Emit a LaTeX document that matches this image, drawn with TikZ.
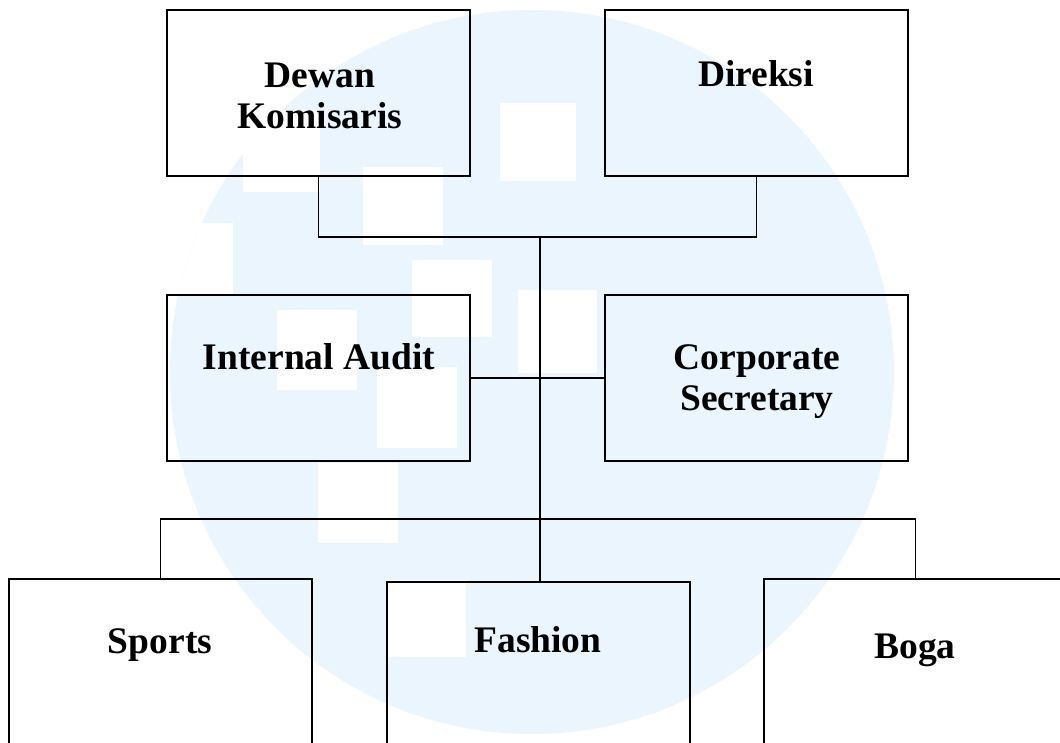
\documentclass[tikz,border=0pt]{standalone}
\usepackage{fontspec}
\setmainfont{Liberation Serif}
\definecolor{wmblue}{RGB}{234,245,254}
\begin{document}
\begin{tikzpicture}[x=1pt,y=-1pt,
  orgbox/.style={draw=black, line width=1.8pt, rectangle, inner sep=0pt, outer sep=0pt,
                 minimum width=303pt, minimum height=166pt},
  boxtext/.style={font=\fontsize{37.5}{41}\selectfont\bfseries, align=center,
                  inner sep=0pt, anchor=base},
  link/.style={line width=1.5pt},
  wmsquare/.style={fill=white}]
% page frame
\clip (0,0) rectangle (1060,742);
\fill[white] (0,0) rectangle (1060,742);

% faint round emblem in the background
\begin{scope}
  \clip (532,372) circle[radius=362pt];
  \fill[wmblue] (532,372) circle[radius=362pt];
  \fill[white] (150,223) rectangle (233,295);
  \fill[wmsquare] (243,110) rectangle (320,192);
  \fill[wmsquare] (500,103) rectangle (576,181);
  \fill[wmsquare] (363,167) rectangle (443,245);
  \fill[wmsquare] (412,260) rectangle (492,337);
  \fill[wmsquare] (518,290) rectangle (597,373);
  \fill[wmsquare] (277,310) rectangle (357,390);
  \fill[wmsquare] (377,367) rectangle (457,448);
  \fill[wmsquare] (318,463) rectangle (398,543);
  \fill[wmsquare] (388,580) rectangle (466,657);
\end{scope}

% boxes
\node[orgbox] (dk)  at (318.5,93)  {};
\node[orgbox] (dir) at (756.5,93)  {};
\node[orgbox] (ia)  at (318.5,378) {};
\node[orgbox] (cs)  at (756.5,378) {};
\node[orgbox] (sp)  at (160.5,662) {};
\node[orgbox] (fa)  at (538.5,665) {};
\node[orgbox] (bo)  at (915.5,662) {};

% junction points
\coordinate (hub)  at (540,237);
\coordinate (bus)  at (540,519);

% connectors
\draw[link] (dk.south) |- (hub) -| (dir.south);
\draw[link] (hub) -- (hub |- fa.north);
\draw[link] (ia.east) -- (cs.west);
\draw[link] (sp.north) |- (bus) -| (bo.north);

% labels (base anchor sits on the last line)
\node[boxtext] (dk-t)  at (320,128) {Dewan\\Komisaris};
\node[boxtext] (dir-t) at (756,86)  {Direksi};
\node[boxtext] (ia-t)  at (319,369) {Internal Audit};
\node[boxtext] (cs-t)  at (757,410) {Corporate\\Secretary};
\node[boxtext] (sp-t)  at (160,653) {Sports};
\node[boxtext] (fa-t)  at (538,652) {Fashion};
\node[boxtext] (bo-t)  at (915,658) {Boga};
\end{tikzpicture}
\end{document}
